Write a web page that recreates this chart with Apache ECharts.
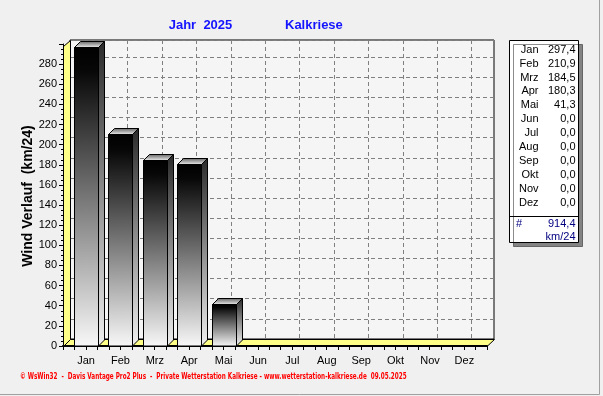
<!DOCTYPE html>
<html><head><meta charset="utf-8">
<script src="https://cdn.jsdelivr.net/npm/echarts@6/dist/echarts.min.js"></script>
<style>html,body{margin:0;padding:0;background:#f0f0f0;}#c{width:603px;height:396px;}</style>
</head><body><div id="c"></div>
<script>
var months = ['Jan','Feb','Mrz','Apr','Mai','Jun','Jul','Aug','Sep','Okt','Nov','Dez'];
var windValues = [297.4, 210.9, 184.5, 180.3, 41.3, 0, 0, 0, 0, 0, 0, 0];
var yTicks = [0,20,40,60,80,100,120,140,160,180,200,220,240,260,280];
var titleYear = 'Jahr  2025';
var titleStation = 'Kalkriese';
var yAxisName = 'Wind Verlauf  (km/24)';
var unitText = 'km/24';
var footer = '\u00a9 WsWin32  -  Davis Vantage Pro2 Plus  -  Private Wetterstation Kalkriese - www.wetterstation-kalkriese.de  09.05.2025';

function fmt(v){ return v.toFixed(1).replace('.', ','); }
var total = windValues.reduce(function(a,b){return a+b;},0);

var FONT = '"Liberation Sans", Arial, sans-serif';
var chart = echarts.init(document.getElementById('c'), null, {renderer:'canvas'});

var frontGrad = {type:'linear',x:0,y:0,x2:0,y2:1,colorStops:[{offset:0,color:'#000'},{offset:0.08,color:'#080808'},{offset:1,color:'#f8f8f8'}]};
var sideGrad = {type:'linear',x:0,y:0,x2:0,y2:1,colorStops:[{offset:0,color:'#2a2a2a'},{offset:1,color:'#f0f0f0'}]};
var topGrad = {type:'linear',x:0,y:0,x2:0,y2:1,colorStops:[{offset:0,color:'#606060'},{offset:1,color:'#f4f4f4'}]};

function renderBar(params, api){
  var v = api.value(1);
  if (!v) return null;
  var idx = api.value(0);
  var top = api.coord([idx, v]);
  var base = api.coord([idx, 0]);
  var bw = api.size([1,0])[0] * 0.7;
  var hw = bw/2, dx = 6, dy = 6;
  var x0 = Math.round(top[0]-hw)+0.5, x1 = Math.round(top[0]+hw)+0.5;
  var ty = Math.round(top[1])+0.5, by = Math.round(base[1]);
  return {type:'group', children:[
    {type:'polygon', shape:{points:[[x1,ty],[x1+dx,ty-dy],[x1+dx,by-dy],[x1,by]]}, style:{fill:sideGrad, stroke:'#000', lineWidth:1}},
    {type:'polygon', shape:{points:[[x0,ty],[x0+dx,ty-dy],[x1+dx,ty-dy],[x1,ty]]}, style:{fill:topGrad, stroke:'#000', lineWidth:1}},
    {type:'rect', shape:{x:x0, y:ty, width:x1-x0, height:by-ty}, style:{fill:frontGrad, stroke:'#000', lineWidth:1}}
  ]};
}

var graphics = [
  {type:'line', shape:{x1:599.5,y1:0,x2:599.5,y2:394.5}, style:{stroke:'#a0a0a0',lineWidth:1}, z:1},
  {type:'line', shape:{x1:0,y1:394.5,x2:599.5,y2:394.5}, style:{stroke:'#a0a0a0',lineWidth:1}, z:1},
  {type:'polygon', shape:{points:[[63,346.5],[487,346.5],[494.5,339.5],[70.5,339.5]]}, style:{fill:'#ffff88', stroke:'#000', lineWidth:1}, z:3},
  {type:'polygon', shape:{points:[[63.5,346.5],[63.5,46.5],[70.5,40.5],[70.5,339.5]]}, style:{fill:'#ffff88', stroke:'#000', lineWidth:1}, z:3},
  {type:'text', x:200.5, y:25, style:{text:titleYear, font:'bold 13px '+FONT, fill:'#1414ff', textAlign:'center', textVerticalAlign:'middle'}, z:5},
  {type:'text', x:285, y:25, style:{text:titleStation, font:'bold 13px '+FONT, fill:'#1414ff', textAlign:'left', textVerticalAlign:'middle'}, z:5},
  {type:'text', x:28, y:196, rotation:Math.PI/2, style:{text:yAxisName, font:'bold 14px '+FONT, fill:'#000', textAlign:'center', textVerticalAlign:'middle'}, z:5},
  {type:'text', x:20, y:377, scaleX:0.71, style:{text:footer, font:'bold 8px "DejaVu Sans", sans-serif', fill:'#ff0000', textAlign:'left', textVerticalAlign:'middle'}, z:5},
  {type:'rect', shape:{x:509.5,y:40.5,width:69,height:202}, style:{fill:'#fff', stroke:'#000', lineWidth:1, shadowColor:'rgba(0,0,0,0.45)', shadowOffsetX:4, shadowOffsetY:4, shadowBlur:0}, z:10},
  {type:'line', shape:{x1:510,y1:216.5,x2:578,y2:216.5}, style:{stroke:'#000',lineWidth:1}, z:11}
];
months.forEach(function(m,i){
  var y = 49.7 + i*13.9;
  graphics.push({type:'text', x:538.5, y:y, style:{text:m, font:'11px '+FONT, fill:'#000', textAlign:'right', textVerticalAlign:'middle'}, z:11});
  graphics.push({type:'text', x:575.5, y:y, style:{text:fmt(windValues[i]), font:'11px '+FONT, fill:'#000', textAlign:'right', textVerticalAlign:'middle'}, z:11});
});
graphics.push({type:'text', x:516, y:223.5, style:{text:'#', font:'11px '+FONT, fill:'#000080', textAlign:'left', textVerticalAlign:'middle'}, z:11});
graphics.push({type:'text', x:575.5, y:223.5, style:{text:fmt(total), font:'11px '+FONT, fill:'#000080', textAlign:'right', textVerticalAlign:'middle'}, z:11});
graphics.push({type:'text', x:575.5, y:236.5, style:{text:unitText, font:'11px '+FONT, fill:'#000080', textAlign:'right', textVerticalAlign:'middle'}, z:11});

var option = {
  backgroundColor:'#f0f0f0',
  animation:false,
  grid:[
    {left:63, top:44, width:424, height:302},
    {left:68.8, top:44, width:412.8, height:302},
    {left:70, top:40, width:424, height:299, show:true, backgroundColor:'#f5f5f5', borderColor:'#000', borderWidth:1, z:0},
    {left:93.2, top:40, width:378.4, height:299}
  ],
  xAxis:[
    {gridIndex:0, type:'value', min:0, max:37, interval:1, axisLine:{show:true, lineStyle:{color:'#000', width:2}}, axisTick:{show:true, length:4, lineStyle:{color:'#000'}}, axisLabel:{show:false}, splitLine:{show:false}, z:6},
    {gridIndex:1, type:'category', data:months, axisLine:{show:false}, axisTick:{show:false}, axisLabel:{color:'#000', fontSize:11, fontFamily:FONT, margin:9}, splitLine:{show:false}},
    {gridIndex:2, type:'value', min:0, max:1, show:false},
    {gridIndex:3, type:'category', boundaryGap:false, data:months, axisLine:{show:false}, axisTick:{show:false}, axisLabel:{show:false}, splitLine:{show:true, lineStyle:{color:'#808080', type:[4,3], width:1}}}
  ],
  yAxis:[
    {gridIndex:0, type:'value', min:0, max:300, interval:20, axisLine:{show:true, lineStyle:{color:'#000', width:1}}, axisTick:{show:true, length:4, lineStyle:{color:'#000'}}, minorTick:{show:true, splitNumber:4, length:2, lineStyle:{color:'#000'}},
      axisLabel:{color:'#000', fontSize:11, fontFamily:FONT, margin:6, formatter:function(v){ return yTicks.indexOf(v) >= 0 ? String(v) : ''; }}, splitLine:{show:false}, z:6},
    {gridIndex:1, type:'value', min:0, max:300, show:false},
    {gridIndex:2, type:'value', min:0, max:297, interval:20, axisLine:{show:false}, axisTick:{show:false}, axisLabel:{show:false}, splitLine:{show:true, lineStyle:{color:'#808080', type:[4,3], width:1}}},
    {gridIndex:3, type:'value', min:0, max:1, show:false}
  ],
  series:[
    {type:'custom', xAxisIndex:1, yAxisIndex:1, z:8, renderItem:renderBar, data:windValues.map(function(v,i){return [i,v];})}
  ],
  graphic:{elements:graphics}
};
chart.setOption(option);
</script></body></html>
